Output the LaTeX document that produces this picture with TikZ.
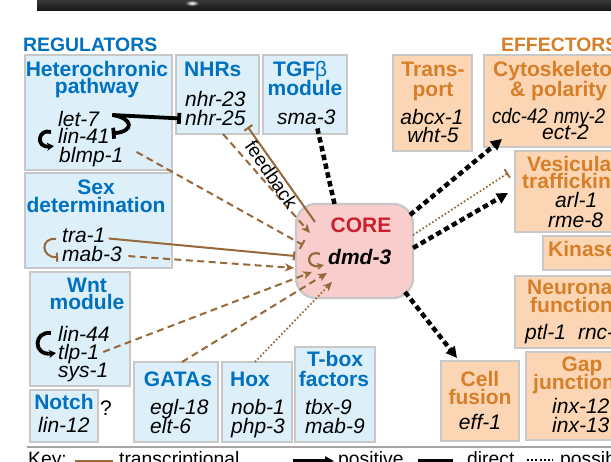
\documentclass[tikz,border=0pt]{standalone}
\usepackage{fontspec}
\setmainfont{Liberation Sans}
\usetikzlibrary{arrows.meta}

\definecolor{regfill}{RGB}{221,240,250}
\definecolor{regblue}{RGB}{0,112,192}
\definecolor{efffill}{RGB}{252,214,180}
\definecolor{effor}{RGB}{214,127,40}
\definecolor{corefill}{RGB}{250,205,205}
\definecolor{corered}{RGB}{200,32,45}
\definecolor{boxgrey}{RGB}{200,200,200}
\definecolor{brn}{RGB}{150,104,58}
\definecolor{rulegrey}{RGB}{165,165,165}

\newcommand\hdfont{\fontsize{21pt}{21pt}\selectfont\bfseries}
\newcommand\gnfont{\fontsize{21pt}{21pt}\selectfont\itshape}
\newcommand\ttlfont{\fontsize{19.4pt}{19.4pt}\selectfont\bfseries}
\newcommand\keyfont{\fontsize{19.3pt}{19.3pt}\selectfont}

\begin{document}
\begin{tikzpicture}[x=1pt,y=-1pt,
  box/.style={draw=boxgrey, line width=2.4pt, inner sep=0pt, outer sep=0pt,
              anchor=north west, rectangle},
  regbox/.style={box, fill=regfill},
  effbox/.style={box, fill=efffill},
  rh/.style={font=\hdfont, text=regblue, anchor=base, inner sep=0pt},
  rhw/.style={font=\hdfont, text=regblue, anchor=base west, inner sep=0pt},
  eh/.style={font=\hdfont, text=effor, anchor=base, inner sep=0pt},
  ehw/.style={font=\hdfont, text=effor, anchor=base west, inner sep=0pt},
  gene/.style={font=\gnfont, anchor=base west, inner sep=0pt},
  genec/.style={font=\gnfont, anchor=base, inner sep=0pt},
  keytext/.style={font=\keyfont, anchor=base west, inner sep=0pt},
  tdash/.style={draw=brn, line width=2pt, dash pattern=on 7pt off 4.5pt},
  tdot/.style={draw=brn, line width=1.8pt, dash pattern=on 1.6pt off 2.2pt},
  tsolid/.style={draw=brn, line width=2pt},
  bdash/.style={draw=black, line width=4.5pt, dash pattern=on 5.5pt off 3.5pt},
  brtip/.style={-{Stealth[length=9pt,width=8pt,inset=2.5pt]}},
  brbar/.style={-{Bar[width=10pt]}},
  bktip/.style={-{Triangle[length=11pt,width=11pt]}},
  loopblk/.style={draw=black, line width=3.8pt, -{Stealth[length=7pt,width=8pt,inset=2pt]}},
]
\useasboundingbox (0,0) rectangle (611,462);
\clip (0,0) rectangle (611,462);
\fill[white] (0,0) rectangle (611,462);

% dark strip along the top edge
\shade[top color=gray!45!black, bottom color=black!92] (37,0) rectangle (611,11);
\shade[inner color=white, outer color=gray!40!black] (192,3) ellipse [x radius=7pt, y radius=3pt];

% section titles
\node[font=\ttlfont, text=regblue, anchor=base west, inner sep=0pt] (regttl) at (23,52) {REGULATORS};
\node[font=\ttlfont, text=effor, anchor=base west, inner sep=0pt] (effttl) at (501,52) {EFFECTORS};

% regulator boxes
\node[regbox, minimum width=147pt, minimum height=115pt] (het) at (25,55) {};
\node[regbox, minimum width=83pt, minimum height=79pt] (nhr) at (176,55) {};
\node[regbox, minimum width=84pt, minimum height=79pt] (tgf) at (263,55) {};
\node[regbox, minimum width=147pt, minimum height=95pt] (sex) at (25,173) {};
\node[regbox, minimum width=100pt, minimum height=114pt] (wnt) at (30,272) {};
\node[regbox, minimum width=68pt, minimum height=52pt] (notch) at (30,390) {};
\node[regbox, minimum width=84pt, minimum height=80pt] (gata) at (134,362) {};
\node[regbox, minimum width=70pt, minimum height=80pt] (hox) at (222,362) {};
\node[regbox, minimum width=80pt, minimum height=95pt] (tbox) at (295,347) {};

% effector boxes
\node[effbox, minimum width=79pt, minimum height=96pt] (trans) at (393,55) {};
\node[effbox, minimum width=160pt, minimum height=92pt] (cyto) at (484,55) {};
\node[effbox, minimum width=130pt, minimum height=81pt] (vesi) at (515,151) {};
\node[effbox, minimum width=100pt, minimum height=34pt] (kin) at (543,236) {};
\node[effbox, minimum width=130pt, minimum height=72pt] (neur) at (515,276) {};
\node[effbox, minimum width=120pt, minimum height=88pt] (gapj) at (526,352) {};
\node[effbox, minimum width=78pt, minimum height=80pt] (fus) at (441,361) {};

% core box
\node[box, fill=corefill, rounded corners=20pt, minimum width=117pt, minimum height=94pt] (core) at (296,204) {};

% heterochronic pathway
\node[rh] (hethd) at (97,77) {Heterochronic};
\node[rh] (hethd2) at (97,94) {pathway};
\node[gene] (let7) at (58,127) {let-7};
\node[gene] (lin41) at (58,144) {lin-41};
\node[gene] (blmp1) at (59,163) {blmp-1};

% nuclear hormone receptors
\node[rhw] (nhrhd) at (184,77) {NHRs};
\node[gene] (nhr23) at (185,107) {nhr-23};
\node[gene] (nhr25) at (185,126) {nhr-25};

% TGF-beta module
\node[rhw] (tgfhd) at (273,77) {TGF{\mdseries β}};
\node[rh] (tgfhd2) at (305,96) {module};
\node[gene] (sma3) at (277,125) {sma-3};

% sex determination
\node[rh] (sexhd) at (96,195) {Sex};
\node[rh] (sexhd2) at (96,213) {determination};
\node[gene] (tra1) at (62,243) {tra-1};
\node[gene] (mab3) at (62,262) {mab-3};

% Wnt module
\node[rh] (wnthd) at (87,293) {Wnt};
\node[rh] (wnthd2) at (87,310) {module};
\node[gene] (lin44) at (58,342) {lin-44};
\node[gene] (tlp1) at (58,360) {tlp-1};
\node[gene] (sys1) at (58,378) {sys-1};

% Notch
\node[rh] (notchhd) at (64,410) {Notch};
\node[gene] (lin12) at (38,432) {lin-12};
\node[font=\fontsize{21pt}{21pt}\selectfont, anchor=base, inner sep=0pt] (qmark) at (106,416) {?};

% GATA factors
\node[rh] (gatahd) at (178,387) {GATAs};
\node[gene] (egl18) at (150,415) {egl-18};
\node[gene] (elt6) at (150,434) {elt-6};

% Hox
\node[rhw] (hoxhd) at (230,387) {Hox};
\node[gene] (nob1) at (231,415) {nob-1};
\node[gene] (php3) at (231,434) {php-3};

% T-box factors
\node[rh] (tboxhd) at (335,367) {T-box};
\node[rh] (tboxhd2) at (334,387) {factors};
\node[gene] (tbx9) at (305,415) {tbx-9};
\node[gene] (mab9) at (305,434) {mab-9};

% transport
\node[eh] (transhd) at (433,77) {Trans-};
\node[eh] (transhd2) at (433,97) {port};
\node[genec] (abcx1) at (432,125) {abcx-1};
\node[genec] (wht5) at (433,143) {wht-5};

% cytoskeleton and polarity
\node[ehw] (cytohd) at (493,77) {Cytoskeleton};
\node[ehw] (cytohd2) at (510,97) {\& polarity};
\node[gene] (cdc42) at (492,124) {\scalebox{0.88}[1]{cdc-42\hspace{7pt}nmy-2}};
\node[gene] (ect2) at (542,140) {ect-2};

% vesicular trafficking
\node[ehw] (vesihd) at (527,172) {Vesicular};
\node[ehw] (vesihd2) at (522,189) {trafficking};
\node[gene] (arl1) at (555,208) {arl-1};
\node[gene] (rme8) at (548,228) {rme-8};

% kinases
\node[ehw] (kinhd) at (548,257) {Kinases};

% neuronal function
\node[ehw] (neurhd) at (527,295) {Neuronal};
\node[ehw] (neurhd2) at (530,313) {function};
\node[gene] (ptl1) at (525,340) {ptl-1\hspace{12pt}rnc-1};

% gap junctions
\node[eh] (gaphd) at (582,372) {Gap};
\node[ehw] (gaphd2) at (533,390) {junctions};
\node[gene] (inx12) at (552,414) {inx-12};
\node[gene] (inx13) at (552,433) {inx-13};

% cell fusion
\node[eh] (fushd) at (480,387) {Cell};
\node[eh] (fushd2) at (480,405) {fusion};
\node[genec] (eff1) at (480,430) {eff-1};

% core
\node[font=\hdfont, text=corered, anchor=base, inner sep=0pt] (corehd) at (361,233) {CORE};
\node[font=\fontsize{21pt}{21pt}\selectfont\bfseries\itshape, anchor=base west, inner sep=0pt] (dmd3) at (328,265) {dmd-3};

% ---- regulatory interactions ----
% let-7 represses nhr-25 and lin-41 (direct)
\coordinate (let7out) at ([shift={(13,-12)}]let7.base east);
\draw[line width=3.8pt, -{Bar[width=11pt]}] (let7out) -- ([xshift=-4pt]nhr25.west);
\draw[line width=3.8pt, -{Bar[width=11pt]}] (let7out) .. controls +(21,3) and +(23,-2) .. ([shift={(2,-3)}]lin41.east);
% lin-41 autoregulation
\draw[loopblk] ([shift={(-7,-12)}]lin41.base west) .. controls +(-13,-4) and +(-19,2) .. ([shift={(-4,2)}]lin41.base west);
% Wnt module loop
\draw[loopblk] ([shift={(-7,-9)}]lin44.base west) .. controls +(-18,-2) and +(-23,3) .. ([shift={(-2,-7)}]tlp1.base west);
% tra-1 represses mab-3
\draw[tsolid, -{Bar[width=9pt]}] ([shift={(-6,-4)}]tra1.base west) .. controls +(-16,-2) and +(-17,1) .. ([shift={(-4,-5)}]mab3.base west);

% sma-3 to core
\draw[bdash] ([shift={(11,3)}]sma3.south) -- ([xshift=-20pt]core.north);

% inputs into the core
\draw[tdash, brtip] ([xshift=5.5pt]nhr.south) -- ([shift={(14,-18)}]core.west);
\draw[tsolid, brbar] ([shift={(19,18)}]core.north west) -- ([shift={(2,1)}]nhr25.base east);
\node[font=\fontsize{19pt}{19pt}\selectfont, rotate=-55.5, inner sep=0pt] (fblabel) at (271.5,174.5) {feedback};
\draw[tdash, brbar] ([shift={(13,-5.6)}]blmp1.east) -- ([shift={(7,-6)}]core.west);
\draw[tsolid, -{Bar[width=9pt]}] ([shift={(3,2.6)}]tra1.east) -- ([shift={(-1,5)}]core.west);
\draw[tdash, brtip] ([shift={(6.5,1.6)}]mab3.east) -- ([shift={(-2,17)}]core.west);
\draw[tdash, brtip] ([shift={(4,-2.6)}]tlp1.east) -- ([shift={(16,21)}]core.west);
\draw[tdash, brtip] ([xshift=6pt]gata.north) -- ([shift={(31,-25)}]core.south west);
\draw[tdot, brtip] ([xshift=-2pt]hox.north) -- ([shift={(36,-16)}]core.south west);
% core autoregulation
\draw[tsolid, line width=2.2pt, -{Stealth[length=7pt,width=7pt,inset=2pt]}] ([shift={(-8,-11)}]dmd3.base west) .. controls +(-14,-5) and +(-19,4) .. ([shift={(-4,0)}]dmd3.base west);

% outputs of the core
\draw[bdash, bktip] ([shift={(-3,-36)}]core.east) -- ([shift={(18,-8)}]cyto.south west);
\draw[bdash, bktip] ([shift={(0,-3)}]core.east) -- ([shift={(-7,1.5)}]vesi.west);
\draw[tdot, brbar] ([shift={(0,-16)}]core.east) -- ([shift={(-7,-18.5)}]vesi.west);
\draw[bdash, bktip] ([shift={(-8,-6)}]core.south east) -- ([shift={(16,-3)}]fus.north west);

% key
\draw[draw=rulegrey, line width=2pt] (27,447) -- (611,447);
\node[keytext] (keylbl) at (28,466) {Key:};
\draw[brn, line width=4pt] (75,462) -- (113,462);
\node[keytext] (keytr) at (119,466) {transcriptional};
\draw[line width=3pt, -{Triangle[length=9pt,width=9pt]}] (293,461) -- (334,461);
\node[keytext] (keypos) at (338,466) {positive};
\draw[line width=3pt] (418,461) -- (453,461);
\node[keytext] (keydir) at (467,466) {direct};
\draw[line width=2pt, dash pattern=on 2pt off 2.2pt] (527,460) -- (553,460);
\node[keytext] (keyposs) at (560,466) {possible};
\end{tikzpicture}
\end{document}
